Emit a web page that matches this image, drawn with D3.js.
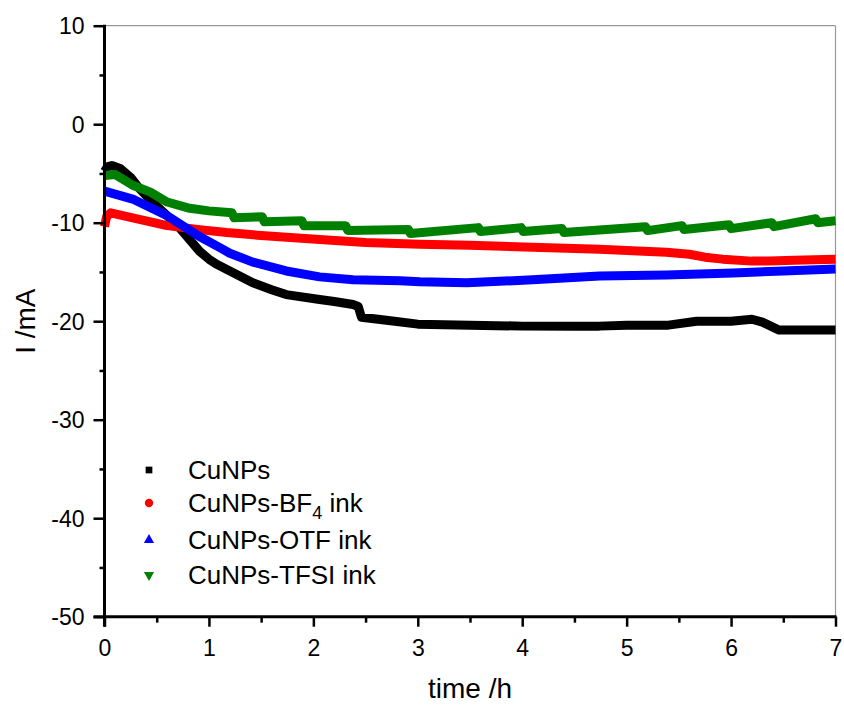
<!DOCTYPE html>
<html>
<head>
<meta charset="utf-8">
<script src="https://cdn.jsdelivr.net/npm/d3@7"></script>
<style>
  body { margin: 0; background: #fff; }
  svg { display: block; font-family: Arial, "Liberation Sans", sans-serif; }
</style>
</head>
<body>
<div id="chart"></div>
<script>
// time (h) and current (mA)
var cuT = [0, 0.03, 0.07, 0.15, 0.25, 0.34, 0.45, 0.6, 0.7, 0.79, 0.91, 1.0, 1.07, 1.2, 1.42, 1.6, 1.74, 2.06, 2.2, 2.38, 2.43, 2.46, 2.7, 3.0, 3.5, 4.0, 4.5, 4.74, 5.0, 5.4, 5.67, 6.0, 6.2, 6.3, 6.46, 6.7, 7.0];
var cuI = [-4.8, -4.3, -4.2, -4.5, -5.4, -6.6, -7.8, -9.3, -10.3, -11.4, -12.9, -13.7, -14.2, -14.9, -16.1, -16.8, -17.3, -17.8, -18.0, -18.3, -18.5, -19.6, -19.9, -20.3, -20.4, -20.5, -20.5, -20.5, -20.4, -20.4, -20.0, -20.0, -19.8, -20.1, -20.9, -20.9, -20.9];

var bf4T = [0, 0.02, 0.06, 0.27, 0.6, 0.91, 1.17, 1.5, 2.06, 2.5, 3.02, 3.5, 4.1, 4.74, 5.38, 5.6, 5.75, 5.92, 6.2, 6.37, 6.6, 7.0];
var bf4I = [-10.4, -9.4, -9.0, -9.5, -10.3, -10.7, -11.0, -11.3, -11.7, -12.0, -12.2, -12.3, -12.5, -12.7, -13.0, -13.2, -13.5, -13.7, -13.9, -13.9, -13.8, -13.7];

var otfT = [0, 0.27, 0.6, 0.91, 1.1, 1.2, 1.42, 1.74, 2.06, 2.38, 2.83, 3.02, 3.47, 4.1, 4.74, 5.38, 6.02, 6.5, 7.0];
var otfI = [-6.8, -7.6, -9.3, -11.4, -12.5, -13.1, -14.0, -14.9, -15.5, -15.8, -15.9, -16.0, -16.1, -15.8, -15.4, -15.3, -15.1, -14.9, -14.7];

var tfsiT = [0, 0.1, 0.27, 0.44, 0.6, 0.8, 1.0, 1.22, 1.24, 1.51, 1.53, 1.89, 1.91, 2.31, 2.33, 2.91, 2.93, 3.58, 3.60, 3.99, 4.01, 4.38, 4.40, 5.18, 5.20, 5.53, 5.55, 5.98, 6.00, 6.39, 6.41, 6.81, 6.83, 7.0];
var tfsiI = [-5.2, -5.1, -6.2, -6.9, -7.9, -8.5, -8.8, -9.0, -9.5, -9.4, -9.9, -9.8, -10.3, -10.3, -10.8, -10.7, -11.1, -10.5, -10.9, -10.5, -10.9, -10.6, -11.0, -10.4, -10.8, -10.3, -10.7, -10.2, -10.6, -10.0, -10.4, -9.6, -10.0, -9.8];

var xTicks = [0, 1, 2, 3, 4, 5, 6, 7];
var yTicks = [10, 0, -10, -20, -30, -40, -50];

var series = [
  {name: "CuNPs", t: cuT, v: cuI, color: "#000000", symbol: d3.symbolSquare},
  {name: "CuNPs-BF", sub: "4", tail: " ink", t: bf4T, v: bf4I, color: "#ff0000", symbol: d3.symbolCircle},
  {name: "CuNPs-OTF ink", t: otfT, v: otfI, color: "#0000ff", symbol: d3.symbolTriangle},
  {name: "CuNPs-TFSI ink", t: tfsiT, v: tfsiI, color: "#008000", symbol: d3.symbolTriangle, flip: true}
];

var W = 844, H = 706;
var pLeft = 104.5, pRight = 835.5, pTop = 25.7, pBottom = 616.7;

var svg = d3.select("#chart").append("svg").attr("width", W).attr("height", H);

var x = d3.scaleLinear().domain([0, 7]).range([pLeft, pRight]);
var y = d3.scaleLinear().domain([-50, 10]).range([pBottom, pTop]);

// frame: thin grey top and right
svg.append("line").attr("x1", pLeft).attr("x2", pRight).attr("y1", pTop).attr("y2", pTop)
  .attr("stroke", "#999").attr("stroke-width", 1.2);
svg.append("line").attr("x1", pRight).attr("x2", pRight).attr("y1", pTop).attr("y2", pBottom)
  .attr("stroke", "#999").attr("stroke-width", 1.2);

// curves
var line = d3.line().x(function(d) { return x(d[0]); }).y(function(d) { return y(d[1]); });
series.forEach(function(s) {
  var pts = s.t.map(function(t, i) { return [t, s.v[i]]; });
  svg.append("path")
    .attr("d", line(pts))
    .attr("fill", "none")
    .attr("stroke", s.color)
    .attr("stroke-width", 9)
    .attr("stroke-linejoin", "round");
});

// axes
var xAxis = svg.append("g").attr("transform", "translate(0," + pBottom + ")");
xAxis.call(d3.axisBottom(x).tickValues(d3.range(0, 7.01, 0.5)).tickSize(0).tickFormat(""));
xAxis.select(".domain").remove();
xAxis.selectAll(".tick line")
  .attr("y2", function(d) { return Number.isInteger(d) ? 10 : 6; })
  .attr("stroke", "#000").attr("stroke-width", 2.5);
xAxis.selectAll(".tick").filter(function(d) { return xTicks.indexOf(d) >= 0; })
  .append("text").attr("y", 39).attr("fill", "#000").attr("text-anchor", "middle")
  .style("font-size", "23px").text(function(d) { return d; });

var yAxis = svg.append("g").attr("transform", "translate(" + pLeft + ",0)");
yAxis.call(d3.axisLeft(y).tickValues(d3.range(-50, 10.01, 5)).tickSize(0).tickFormat(""));
yAxis.select(".domain").remove();
yAxis.selectAll(".tick line")
  .attr("x2", function(d) { return d % 10 === 0 ? -11 : -5; })
  .attr("stroke", "#000").attr("stroke-width", 2.5);
yAxis.selectAll(".tick").filter(function(d) { return yTicks.indexOf(d) >= 0; })
  .append("text").attr("x", -20).attr("dy", "0.36em").attr("fill", "#000").attr("text-anchor", "end")
  .style("font-size", "23px").text(function(d) { return d; });

svg.append("line").attr("x1", pLeft - 11).attr("x2", pRight + 1).attr("y1", pBottom).attr("y2", pBottom)
  .attr("stroke", "#000").attr("stroke-width", 3);
svg.append("line").attr("x1", pLeft).attr("x2", pLeft).attr("y1", pTop - 1).attr("y2", pBottom + 10)
  .attr("stroke", "#000").attr("stroke-width", 3);

// titles
svg.append("text").attr("x", (pLeft + pRight) / 2).attr("y", 698).attr("text-anchor", "middle")
  .style("font-size", "28px").text("time /h");
svg.append("text").attr("transform", "translate(35," + ((pTop + pBottom) / 2) + ") rotate(-90)")
  .attr("text-anchor", "middle").style("font-size", "28px").text("I /mA");

// legend
var legY = [470, 503, 540, 575];
series.forEach(function(s, i) {
  svg.append("path")
    .attr("d", d3.symbol().type(s.symbol).size(s.symbol === d3.symbolCircle ? 55 : 45)())
    .attr("transform", "translate(149," + legY[i] + ")" + (s.flip ? " rotate(180)" : ""))
    .attr("fill", s.color);
  var txt = svg.append("text").attr("x", 188).attr("y", legY[i] + 9).style("font-size", "26px");
  txt.append("tspan").text(s.name);
  if (s.sub) {
    txt.append("tspan").attr("dy", 7).style("font-size", "18px").text(s.sub);
    txt.append("tspan").attr("dy", -7).text(s.tail);
  }
});
</script>
</body>
</html>
